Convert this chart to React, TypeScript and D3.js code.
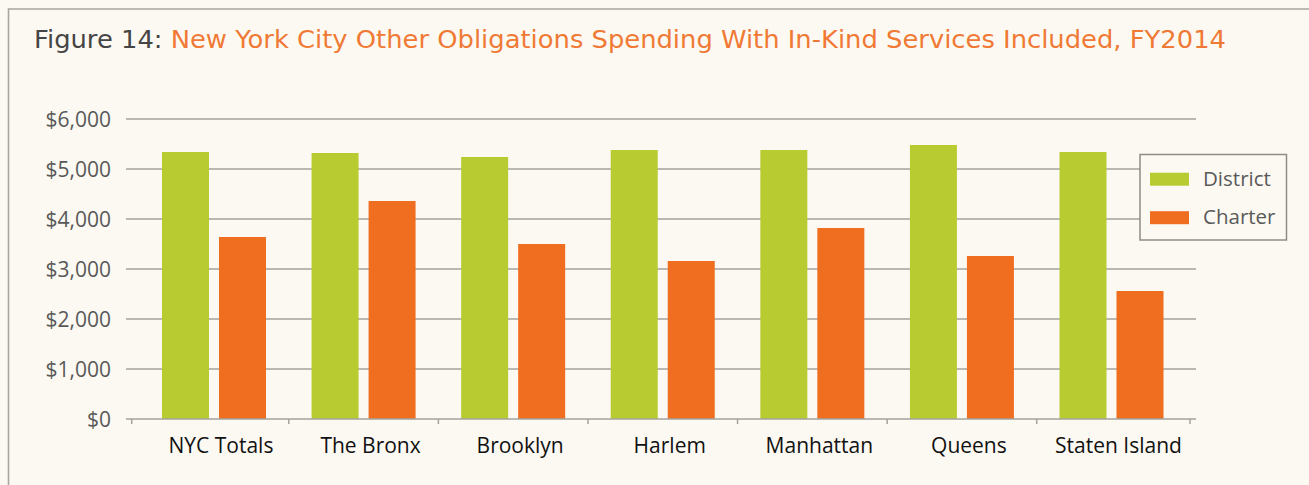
import React from "react";
import * as d3 from "d3";

const categories = ["NYC Totals", "The Bronx", "Brooklyn", "Harlem", "Manhattan", "Queens", "Staten Island"];
const seriesNames = ["District", "Charter"];
const districtValues = [5340, 5320, 5240, 5380, 5380, 5480, 5340];
const charterValues = [3640, 4360, 3500, 3160, 3820, 3260, 2560];
const yTickValues = [0, 1000, 2000, 3000, 4000, 5000, 6000];
const titlePrefix = "Figure 14: ";
const titleMain = "New York City Other Obligations Spending With In-Kind Services Included, FY2014";

const W = 1309;
const H = 485;
const BG = "#fcf9f2";
const GREEN = "#b8cc31";
const ORANGE = "#f06e20";
const GRID = "#a5a29c";
const colors = [GREEN, ORANGE];
const FONT = "'Open Sans', 'Noto Sans', sans-serif";
const TITLE_FONT = "'DejaVu Sans', 'Open Sans', sans-serif";

export default function App() {
  const y = d3.scaleLinear().domain([0, 6000]).range([419, 119]);
  const x0 = d3.scaleBand<string>().domain(categories).range([139.2, 1186.3]).paddingInner(0).paddingOuter(0);
  const bw = x0.bandwidth();
  const x1 = d3
    .scaleBand<string>()
    .domain(seriesNames)
    .range([bw / 2 - 52, bw / 2 + 52])
    .paddingInner(10 / 57);
  const values = [districtValues, charterValues];
  const fmt = d3.format("$,");
  const boundaries = categories.map((c) => x0(c) as number).concat([(x0(categories[categories.length - 1]) as number) + bw]);
  boundaries[0] = 131.7;
  boundaries[boundaries.length - 1] = 1190;

  return (
    <svg width={W} height={H} style={{ position: "absolute", left: 0, top: 0, display: "block" }}>
      <rect x={0} y={0} width={W} height={H} fill={BG} />
      <path d={`M8.5,${H} V9 H${W}`} fill="none" stroke="#a8a5a0" strokeWidth={1.6} />
      <text x={34} y={48} fontFamily={TITLE_FONT} fontSize={24.5} fontWeight={400} textLength={1192} lengthAdjust="spacingAndGlyphs">
        <tspan fill="#454545">{titlePrefix}</tspan>
        <tspan fill="#f07a35">{titleMain}</tspan>
      </text>

      {yTickValues.map((t) => (
        <g key={t}>
          {t > 0 && <line x1={126} x2={1196} y1={y(t)} y2={y(t)} stroke={GRID} strokeWidth={1.6} />}
          <text x={111} y={y(t)} dy="0.36em" textAnchor="end" fontFamily={FONT} fontSize={21} fill="#595959">
            {fmt(t)}
          </text>
        </g>
      ))}

      {categories.map((c, i) => (
        <g key={c} transform={`translate(${x0(c)},0)`}>
          {seriesNames.map((s, j) => (
            <rect
              key={s}
              x={x1(s)}
              width={x1.bandwidth()}
              y={y(values[j][i])}
              height={y(0) - y(values[j][i])}
              fill={colors[j]}
            />
          ))}
          <text x={bw / 2 + 7} y={453} textAnchor="middle" fontFamily={FONT} fontSize={21} fill="#111">
            {c}
          </text>
        </g>
      ))}

      <line x1={126} x2={1196} y1={y(0)} y2={y(0)} stroke={GRID} strokeWidth={1.6} />
      {boundaries.map((b, i) => (
        <line key={i} x1={b} x2={b} y1={y(0)} y2={y(0) + 5} stroke={GRID} strokeWidth={1.5} />
      ))}

      <rect x={1140} y={154.5} width={146.5} height={85.5} fill={BG} stroke="#8f8c87" strokeWidth={1.5} />
      {seriesNames.map((s, j) => (
        <g key={s} transform={`translate(0,${j * 38.5})`}>
          <rect x={1150} y={172.7} width={39} height={13} fill={colors[j]} />
          <text x={1203} y={178.5} dy="0.36em" fontFamily={FONT} fontSize={20.5} fill="#595959">
            {s}
          </text>
        </g>
      ))}
    </svg>
  );
}
